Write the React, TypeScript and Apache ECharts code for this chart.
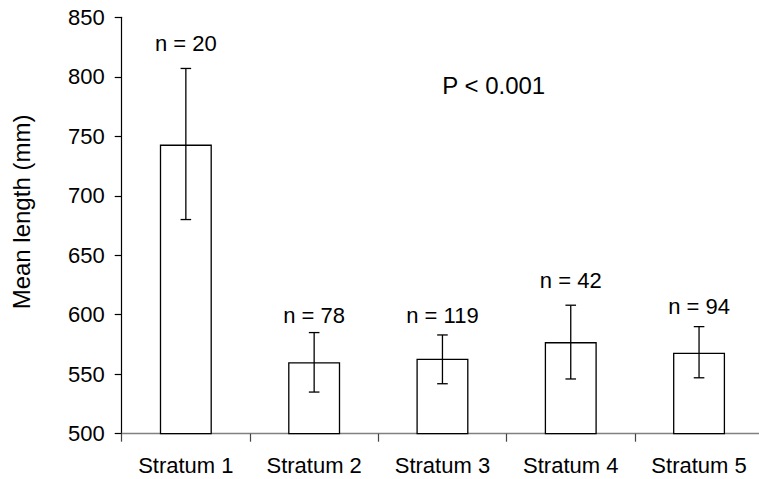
import React, { useEffect, useRef } from "react";
import * as echarts from "echarts";

const categories = ["Stratum 1", "Stratum 2", "Stratum 3", "Stratum 4", "Stratum 5"];
const meanLength = [743, 560, 563, 577, 568];
const errLow = [680, 535, 542, 546, 547];
const errHigh = [807, 585, 583, 608, 590];
const sampleSizes = [20, 78, 119, 42, 94];
const labelY = [828, 599, 599, 628.6, 607.3];
const yTicks = { min: 500, max: 850, interval: 50 };
const pText = "P < 0.001";
const yName = "Mean length (mm)";

const FONT = "'Liberation Sans', Arial, Helvetica, sans-serif";

export default function App() {
  const ref = useRef<HTMLDivElement>(null);
  useEffect(() => {
    if (!ref.current) return;
    const chart = echarts.init(ref.current, undefined, { renderer: "svg" });
    const errData = categories.map((c, i) => [i, errLow[i], errHigh[i]]);
    const labelData = categories.map((c, i) => [i, labelY[i], sampleSizes[i]]);
    chart.setOption({
      animation: false,
      backgroundColor: "#ffffff",
      textStyle: { fontFamily: FONT },
      grid: { left: 121.7, right: 16.8, top: 17.3, bottom: 45.3, containLabel: false },
      xAxis: {
        type: "category",
        data: categories,
        boundaryGap: true,
        axisLine: { lineStyle: { color: "#808080", width: 1.3 } },
        axisTick: { show: true, inside: false, length: 8, lineStyle: { color: "#444", width: 1.2 } },
        axisLabel: { color: "#000", fontSize: 22, fontFamily: FONT, margin: 21 },
        splitLine: { show: false },
      },
      yAxis: {
        type: "value",
        min: yTicks.min,
        max: yTicks.max,
        interval: yTicks.interval,
        axisLine: { show: true, lineStyle: { color: "#000", width: 1.2 } },
        axisTick: { show: true, inside: false, length: 7, lineStyle: { color: "#000", width: 1.2 } },
        axisLabel: { color: "#000", fontSize: 22, fontFamily: FONT, margin: 17 },
        splitLine: { show: false },
      },
      graphic: [
        {
          type: "text",
          x: 493.7,
          y: 85,
          style: {
            text: pText,
            font: `24px ${FONT}`,
            fill: "#000",
            textAlign: "center",
            textVerticalAlign: "middle",
          },
        },
        {
          type: "text",
          x: 21.7,
          y: 212,
          rotation: Math.PI / 2,
          style: {
            text: yName,
            font: `24px ${FONT}`,
            fill: "#000",
            textAlign: "center",
            textVerticalAlign: "middle",
          },
        },
      ],
      series: [
        {
          type: "bar",
          data: meanLength,
          barWidth: 52,
          itemStyle: { color: "#ffffff", borderColor: "#000", borderWidth: 1.3 },
          z: 2,
        },
        {
          type: "custom",
          data: errData,
          z: 3,
          renderItem: (params: any, api: any) => {
            const i = api.value(0);
            const lo = api.coord([i, api.value(1)]);
            const hi = api.coord([i, api.value(2)]);
            const x = lo[0];
            const hw = 5.3;
            const st = { stroke: "#000", lineWidth: 1.3 };
            return {
              type: "group",
              children: [
                { type: "line", shape: { x1: x, y1: lo[1], x2: x, y2: hi[1] }, style: st },
                { type: "line", shape: { x1: x - hw, y1: hi[1], x2: x + hw, y2: hi[1] }, style: st },
                { type: "line", shape: { x1: x - hw, y1: lo[1], x2: x + hw, y2: lo[1] }, style: st },
              ],
            };
          },
        },
        {
          type: "custom",
          data: labelData,
          z: 4,
          renderItem: (params: any, api: any) => {
            const i = api.value(0);
            const p = api.coord([i, api.value(1)]);
            return {
              type: "text",
              x: p[0],
              y: p[1],
              style: {
                text: `n = ${api.value(2)}`,
                font: `22px ${FONT}`,
                fill: "#000",
                textAlign: "center",
                textVerticalAlign: "middle",
              },
            };
          },
        },
      ],
    });
    return () => chart.dispose();
  }, []);
  return (
    <div
      style={{
        position: "fixed",
        left: 0,
        top: 0,
        width: 759,
        height: 479,
        overflow: "hidden",
        background: "#fff",
      }}
    >
      <div ref={ref} style={{ width: 780, height: 479 }} />
    </div>
  );
}
